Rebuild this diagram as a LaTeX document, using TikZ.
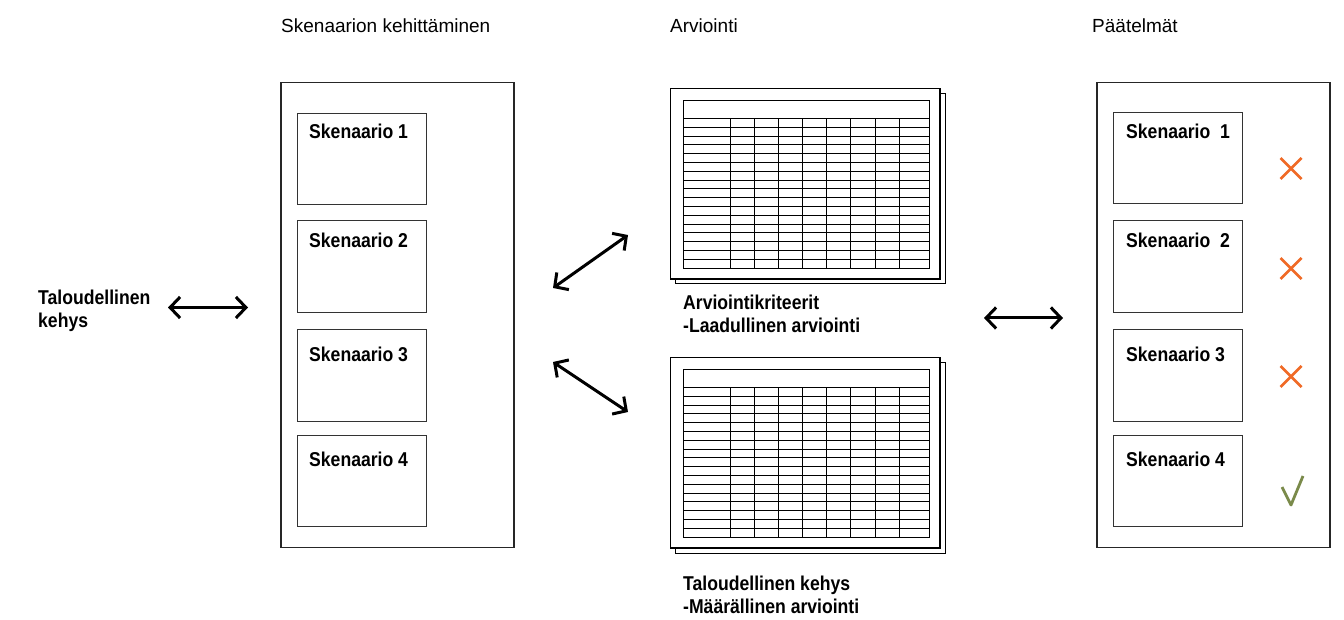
\documentclass[tikz,border=0pt]{standalone}
\usepackage{fontspec}
\setmainfont{Liberation Sans}
\newfontfamily\bcond[FakeStretch=0.88]{Liberation Sans}
\usetikzlibrary{arrows.meta}
\definecolor{xorange}{RGB}{240,106,38}
\definecolor{okgreen}{RGB}{122,138,74}
\tikzset{
 outerbox/.style={draw=black!85, line width=1.4pt, minimum width=233pt, minimum height=465pt, anchor=north west, inner sep=0pt, outer sep=0pt},
 scenbox/.style={draw=black!80, line width=1pt, minimum width=129pt, minimum height=91pt, anchor=north west, inner sep=0pt, outer sep=0pt},
 scentext/.style={anchor=base west, inner sep=0pt, font=\bcond\bfseries\fontsize{20}{23}\selectfont},
 titletext/.style={anchor=base west, inner sep=0pt, font=\fontsize{19}{22}\selectfont},
 boldlabel/.style={anchor=base west, inner sep=0pt, font=\bcond\bfseries\fontsize{20}{24}\selectfont},
 dblarrow/.style={line width=3pt, {Straight Barb[length=10pt,width=21pt]}-{Straight Barb[length=10pt,width=21pt]}},
 cross/.style={xorange, line width=2.8pt},
 tickmark/.style={okgreen, line width=2.8pt, line join=round},
 sheet/.pic={
  \draw[fill=white, line width=1pt] (5,5) rectangle (274.5,195.5);
  \draw[fill=white, line width=1.2pt] (0,0) rectangle (269.5,190.5);
  \draw[line width=0.9pt] (12.5,11.5) rectangle (258.5,179.5);
  \draw[line width=0.9pt] (12.5,30) -- (258.5,30);
  \foreach \i in {1,...,16} \draw[line width=0.8pt] (12.5,{30+\i*149.5/17}) -- (258.5,{30+\i*149.5/17});
  \foreach \xx in {59.5,83.8,107.8,132.2,156.2,180.2,204.5,228.8} \draw[line width=0.8pt] (\xx,30) -- (\xx,179.5);
 }
}
\begin{document}
\begin{tikzpicture}[x=1pt,y=-1pt]
\useasboundingbox (0,0) rectangle (1344,620);
\fill[white] (0,0) rectangle (1344,620);

% titles
\node[titletext] (t1) at (281,33) {Skenaarion kehittäminen};
\node[titletext] (t2) at (670,33) {Arviointi};
\node[titletext] (t3) at (1092,33) {Päätelmät};

% left label
\node[boldlabel] (tk1) at (38,304.5) {Taloudellinen};
\node[boldlabel] (tk2) at (38,327) {kehys};

% left outer box
\node[outerbox] (lbox) at (281,82.5) {};
\node[scenbox] (ls1) at (297,114) {};
\node[scenbox, minimum height=92pt] (ls2) at (297,221) {};
\node[scenbox] (ls3) at (297,330) {};
\node[scenbox] (ls4) at (297,435) {};
\node[scentext] (ls1t) at (309,139) {Skenaario 1};
\node[scentext] (ls2t) at (309,248) {Skenaario 2};
\node[scentext] (ls3t) at (309,361) {Skenaario 3};
\node[scentext] (ls4t) at (309,466) {Skenaario 4};

% right outer box
\node[outerbox] (rbox) at (1097,82.5) {};
\node[scenbox] (rs1) at (1113,113) {};
\node[scenbox, minimum height=92pt] (rs2) at (1113,221) {};
\node[scenbox] (rs3) at (1113,330) {};
\node[scenbox] (rs4) at (1113,435) {};
\node[scentext] (rs1t) at (1126,138.5) {Skenaario\ \ 1};
\node[scentext] (rs2t) at (1126,248) {Skenaario\ \ 2};
\node[scentext] (rs3t) at (1126,361) {Skenaario 3};
\node[scentext] (rs4t) at (1126,466) {Skenaario 4};

% spreadsheets
\pic (sa) at (670.5,88.5) {sheet};
\pic (sb) at (670.5,357.5) {sheet};
\node[boldlabel] (la1) at (683,309.5) {Arviointikriteerit};
\node[boldlabel] (la2) at (683,333) {-Laadullinen arviointi};
\node[boldlabel] (lb1) at (683,590) {Taloudellinen kehys};
\node[boldlabel] (lb2) at (683,613) {-Määrällinen arviointi};

% arrows
\coordinate (a1s) at (168,307.5);
\coordinate (a1e) at (248,307.5);
\coordinate (d1s) at (553,288);
\coordinate (d1e) at (628,235);
\coordinate (d2s) at (553,362);
\coordinate (d2e) at (628,412);
\coordinate (a2s) at (984,318);
\coordinate (a2e) at (1063,318);
\draw[dblarrow] (a1s) -- (a1e);
\draw[dblarrow] (d1s) -- (d1e);
\draw[dblarrow] (d2s) -- (d2e);
\draw[dblarrow] (a2s) -- (a2e);

% marks
\draw[cross] (1280.5,158) -- (1301.5,179) (1280.5,179) -- (1301.5,158);
\draw[cross] (1280.5,258) -- (1301.5,279) (1280.5,279) -- (1301.5,258);
\draw[cross] (1280.5,366) -- (1301.5,387) (1280.5,387) -- (1301.5,366);
\draw[tickmark] (1282,487) -- (1291,505) -- (1303,476);
\end{tikzpicture}
\end{document}
